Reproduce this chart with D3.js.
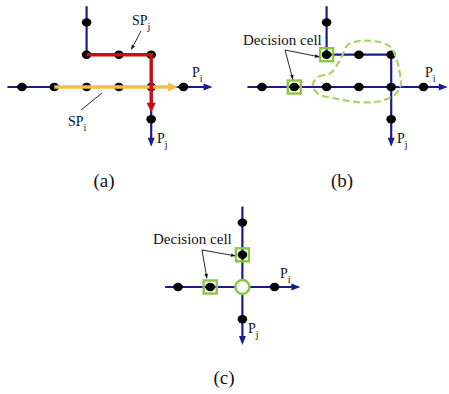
<!DOCTYPE html>
<html><head><meta charset="utf-8">
<script src="https://cdn.jsdelivr.net/npm/d3@7"></script>
<style>body{margin:0;background:#fff}svg{display:block}</style>
</head><body><svg id="c" width="449" height="394"></svg>
<script>
// grid units: [col,row]
const panelNames = ["(a)", "(b)", "(c)"];
const panelOrigins = [[22, 87], [262, 87], [178, 287]];
const panelUnits = [32.3, 32.3, 32.2];
const captionPos = [[104, 187], [342, 187], [224, 384]];
// blue road segments per panel: [from, to, arrow?]
const roadsA = [[[-0.45,0],[5.9,0],1],[[2,-2.5],[2,-1],0],[[2,-1],[4,-1],0],[[4,-1],[4,1.85],1]];
const roadsB = [[[-0.45,0],[5.75,0],1],[[2,-2.5],[2,-1],0],[[2,-1],[4,-1],0],[[4,-1],[4,1.85],1]];
const roadsC = [[[-0.4,0],[3.8,0],1],[[2,-2.5],[2,1.8],1]];
const cellsA = [[0,0],[1,0],[2,0],[3,0],[4,0],[5,0],[2,-2],[2,-1],[3,-1],[4,-1],[4,1]];
const cellsB = [[0,0],[1,0],[2,0],[3,0],[4,0],[5,0],[2,-2],[2,-1],[3,-1],[4,-1],[4,1]];
const cellsC = [[0,0],[1,0],[3,0],[2,-2],[2,-1],[2,1]];
const pathSPj = [[2,-1],[4,-1],[4,0.8]];
const pathSPi = [[1,0],[4.83,0]];
const decisionB = [[1,0],[2,-1]];
const decisionC = [[1,0],[2,-1]];
const conflictC = [2,0];
// conflict region outline (b), grid units
const blobB = [[1.58,-0.12],[1.75,-0.32],[2.15,-0.45],[2.45,-0.9],[2.65,-1.3],[3.05,-1.43],[3.6,-1.4],[4.0,-1.22],[4.2,-0.75],[4.3,-0.1],[4.1,0.25],[3.6,0.45],[2.95,0.47],[2.25,0.35],[1.8,0.25],[1.6,0.05]];
// labels (pixel anchors)
const piLabels = [[192,77],[425,77],[280,278]];
const pjLabels = [[157,143],[397,143],[248,333]];

const svg = d3.select("#c");
const BLUE = "#1b1b8e", RED = "#c41010", YEL = "#f1c04c", GRN = "#8cc63f", GRN2 = "#a6d468";

function scales(p){
  const [ox, oy] = panelOrigins[p], u = panelUnits[p];
  return {x: d3.scaleLinear().domain([0,1]).range([ox, ox+u]), y: d3.scaleLinear().domain([0,1]).range([oy, oy+u])};
}
function arrowHead(g, x1,y1,x2,y2,len,wid,color){
  const a = Math.atan2(y2-y1,x2-x1);
  const bx = x2-len*Math.cos(a), by = y2-len*Math.sin(a);
  const px = -Math.sin(a)*wid/2, py = Math.cos(a)*wid/2;
  g.append("path").attr("d",`M${x2},${y2}L${bx+px},${by+py}L${bx-px},${by-py}Z`).attr("fill",color);
}
function drawRoads(g, s, roads){
  roads.forEach(([a,b,arr])=>{
    const x1=s.x(a[0]),y1=s.y(a[1]),x2=s.x(b[0]),y2=s.y(b[1]);
    const a2 = Math.atan2(y2-y1,x2-x1);
    const ex = arr? x2-6*Math.cos(a2):x2, ey = arr? y2-6*Math.sin(a2):y2;
    g.append("line").attr("x1",x1).attr("y1",y1).attr("x2",ex).attr("y2",ey).attr("stroke",BLUE).attr("stroke-width",2.2);
    if(arr) arrowHead(g,x1,y1,x2,y2,9,7,BLUE);
  });
}
function drawCells(g, s, cells){
  g.selectAll(null).data(cells).enter().append("ellipse")
    .attr("cx",d=>s.x(d[0])).attr("cy",d=>s.y(d[1])).attr("rx",4.8).attr("ry",4.2).attr("fill","#000");
}
function drawSquares(g, s, cells){
  g.selectAll(null).data(cells).enter().append("rect")
    .attr("x",d=>s.x(d[0])-6.5).attr("y",d=>s.y(d[1])-6.5).attr("width",13).attr("height",13)
    .attr("fill","none").attr("stroke",GRN).attr("stroke-width",2.4);
}
function txt(g,x,y,fs){
  return g.append("text").attr("x",x).attr("y",y).attr("font-size",fs).attr("font-family","Liberation Serif").attr("fill","#111");
}
function subLabel(g, x, y, main, sub, fs){
  const t = txt(g,x,y,fs);
  t.append("tspan").text(main);
  t.append("tspan").attr("dy",4.5).attr("font-size",fs*0.72).text(sub);
}
function leader(g, x1,y1,x2,y2){
  const a = Math.atan2(y2-y1,x2-x1);
  g.append("line").attr("x1",x1).attr("y1",y1).attr("x2",x2-4*Math.cos(a)).attr("y2",y2-4*Math.sin(a)).attr("stroke","#111").attr("stroke-width",0.9);
  arrowHead(g,x1,y1,x2,y2,5,3.5,"#111");
}

// Panel (a)
{
  const s = scales(0), g = svg.append("g");
  drawRoads(g, s, roadsA);
  drawCells(g, s, cellsA);
  const yx1=s.x(pathSPi[0][0]), yy=s.y(pathSPi[0][1]), yx2=s.x(pathSPi[1][0]);
  g.append("line").attr("x1",yx1).attr("y1",yy).attr("x2",yx2-8).attr("y2",yy).attr("stroke",YEL).attr("stroke-width",3.6);
  arrowHead(g,yx1,yy,yx2,yy,10,9,YEL);
  const pts = pathSPj.map(d=>[s.x(d[0]),s.y(d[1])]);
  const last = pts[pts.length-1];
  g.append("path").attr("d",d3.line()(pts.slice(0,-1).concat([[last[0],last[1]-8]]))).attr("fill","none").attr("stroke",RED).attr("stroke-width",3.4);
  arrowHead(g,pts[1][0],pts[1][1],last[0],last[1],10,9,RED);
  subLabel(g,132,25,"SP","j",14);
  leader(g,141,31,131,50);
  subLabel(g,68,126,"SP","i",14);
  g.append("line").attr("x1",81).attr("y1",110).attr("x2",102).attr("y2",93).attr("stroke","#111").attr("stroke-width",0.9);
}
// Panel (b)
{
  const s = scales(1), g = svg.append("g");
  drawRoads(g, s, roadsB);
  drawCells(g, s, cellsB);
  g.append("path").attr("d",d3.line().curve(d3.curveCardinalClosed.tension(0.2))(blobB.map(d=>[s.x(d[0]),s.y(d[1])])))
    .attr("fill","none").attr("stroke",GRN2).attr("stroke-width",2.2).attr("stroke-dasharray","7,3.5");
  drawSquares(g, s, decisionB);
  txt(g,243,45,15).text("Decision cell");
  leader(g,285,50,320,57);
  leader(g,285,50,293,80);
}
// Panel (c)
{
  const s = scales(2), g = svg.append("g");
  drawRoads(g, s, roadsC);
  drawCells(g, s, cellsC);
  g.append("circle").attr("cx",s.x(conflictC[0])).attr("cy",s.y(conflictC[1])).attr("r",7).attr("fill","#fff").attr("stroke",GRN).attr("stroke-width",2.4);
  drawSquares(g, s, decisionC);
  txt(g,153,244,15).text("Decision cell");
  leader(g,202,250,236,256);
  leader(g,202,250,207,279);
}
piLabels.forEach(([x,y])=>subLabel(svg,x,y,"P","i",14));
pjLabels.forEach(([x,y])=>subLabel(svg,x,y,"P","j",14));
captionPos.forEach(([x,y],i)=>txt(svg,x,y,19).attr("text-anchor","middle").text(panelNames[i]));
</script></body></html>
